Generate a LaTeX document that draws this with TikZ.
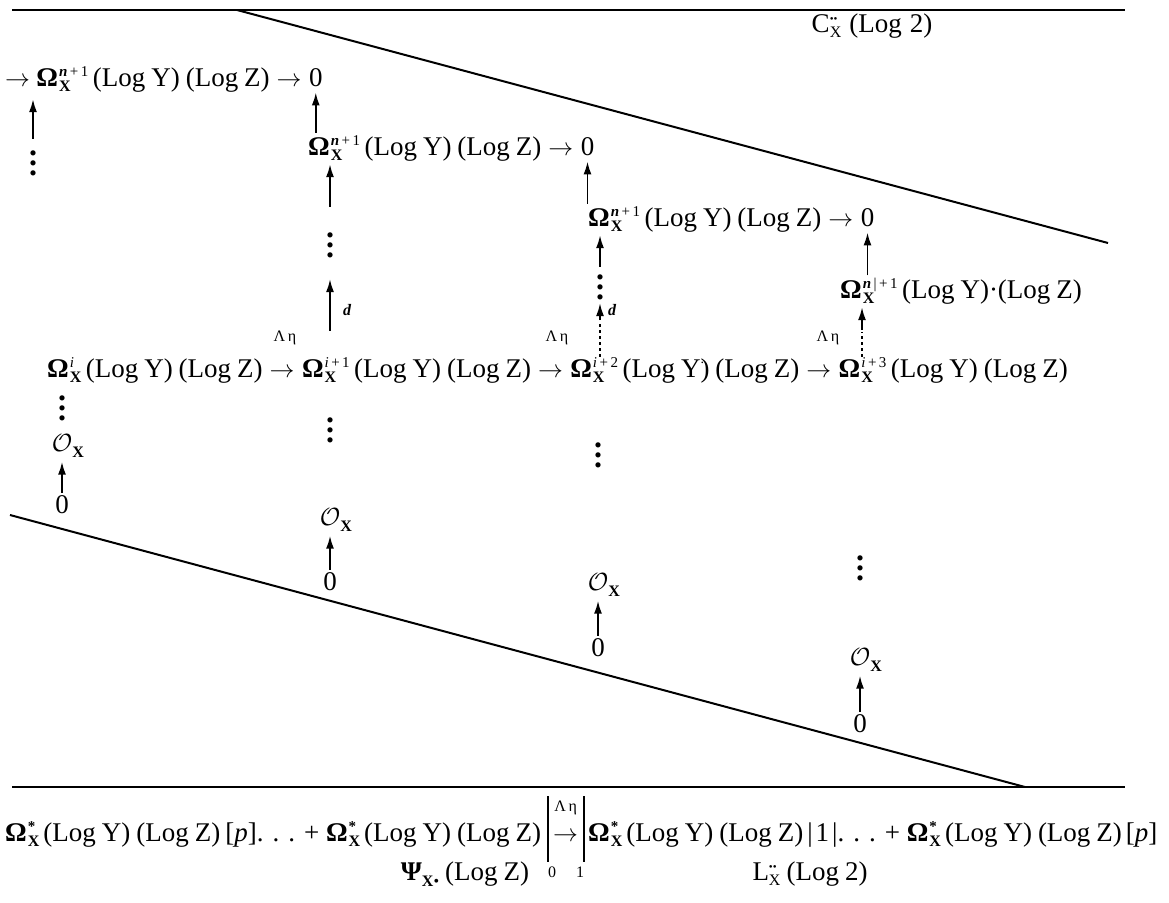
\documentclass[tikz,border=0pt]{standalone}
\usepackage{fontspec}
\setmainfont{Liberation Serif}
\usetikzlibrary{arrows.meta}

\newcommand\supsub[2]{{\fontsize{15}{16}\selectfont\setbox0\hbox{\raisebox{10pt}{#1}}\setbox2\hbox{\raisebox{-5pt}{\fontsize{16}{16}\selectfont#2}}\ifdim\wd0>\wd2 \rlap{\box2}\box0\else\rlap{\box0}\box2\fi}}
\newcommand\OmX[1]{\textbf{Ω}\kern1pt\supsub{#1}{\textbf{X}}}
\newcommand\OmS{\textbf{Ω}\kern1pt\supsub{\textbf{*}}{\textbf{X}}}
\newcommand\LYZ{\kern4pt(Log\kern6pt Y)\kern6pt(Log\kern6pt Z)}
\newcommand\arr{\kern7pt$\to$\kern7pt}
\newcommand\vdts{\vbox{\baselineskip=10pt\lineskiplimit=0pt\fontsize{32}{10}\selectfont\bfseries\hbox{.}\hbox{.}\hbox{.}}}
\newcommand\OX{$\mathcal{O}$\rlap{\raisebox{-6pt}{\fontsize{16}{18}\selectfont\textbf{X}}}}
\newcommand\twodots{{\fontsize{11}{11}\selectfont••}}

\begin{document}
\begin{tikzpicture}[x=1pt, y=-1pt,
        every node/.style={font=\fontsize{27}{30}\selectfont},
        txt/.style={inner sep=0pt, anchor=base west},
        small/.style={font=\fontsize{16}{18}\selectfont, inner sep=0pt},
        up/.style={-{Latex[length=13pt,width=8pt]}, line width=1.8pt},
        rule/.style={line width=2pt}]

        \useasboundingbox (0,0) rectangle (1169,902);

        \draw[rule] (12,10) -- (1125,10);
        \draw[rule] (237,10) -- (1108,243);
        \draw[rule] (10,515) -- (1025,787);
        \draw[rule] (12,787) -- (1125,787);

        \node (clab) at (872,26) {C\supsub{\twodots}{X}\kern8pt(Log\kern8pt 2)};

        % staircase rows
        \node[txt] (arA) at (5,86) {$\to$\kern6pt};
        \node[txt] (omA) at (arA.base east) {\OmX{\textbf{\textit{n}}\,+\,1}};
        \node[txt] (lzA) at (omA.base east) {\LYZ\arr};
        \node[txt] (zA) at (lzA.base east) {0};

        \node[txt] (omB) at (308,155) {\OmX{\textbf{\textit{n}}\,+\,1}};
        \node[txt] (lzB) at (omB.base east) {\LYZ\arr};
        \node[txt] (zB) at (lzB.base east) {0};

        \node[txt] (omC) at (588,226) {\OmX{\textbf{\textit{n}}\,+\,1}};
        \node[txt] (lzC) at (omC.base east) {\LYZ\arr};
        \node[txt] (zC) at (lzC.base east) {0};

        \node[txt] (omD) at (840,298) {\OmX{\textbf{\textit{n}}\,|\,+\,1}};
        \node[txt] (lzD) at (omD.base east) {\kern4pt(Log\kern6pt Y)\textperiodcentered(Log\kern6pt Z)};

        % main row
        \node[txt] (om0) at (47,377) {\OmX{\textit{i}}};
        \node[txt] (lz0) at (om0.base east) {\LYZ\arr};
        \node[txt] (om1) at (lz0.base east) {\OmX{\textit{i}\,+\,1}};
        \node[txt] (lz1) at (om1.base east) {\LYZ\arr};
        \node[txt] (om2) at (lz1.base east) {\OmX{\textit{i}\,+\,2}};
        \node[txt] (lz2) at (om2.base east) {\kern4pt(Log\kern6pt Y\rlap{\raisebox{14pt}{\fontsize{14}{14}\selectfont.}})\kern6pt(Log\kern6pt Z)\arr};
        \node[txt] (om3) at (lz2.base east) {\OmX{\textit{i}\,+\,3}};
        \node[txt] (lz3) at (om3.base east) {\LYZ};

        \foreach \x in {285, 557, 828}{
            \node[small] (eta\x) at (\x,338) {Λ\,η};
        }

        % upper columns
        \node (dA) at (33,163) {\vdts};
        \draw[up, shorten <=8pt, shorten >=8pt] (dA.north) -- (omA.south -| dA);

        \node (d2) at (330,245) {\vdts};
        \draw[up, shorten <=2pt, shorten >=6pt] (omB.north -| zA) -- (zA.south);
        \draw[up, shorten <=22pt, shorten >=4pt] (d2.north) -- (omB.south -| d2);
        \draw[up, shorten <=26pt, shorten >=18pt] (om1.north -| d2) -- (d2.south);
        \node[small, font=\fontsize{16}{18}\selectfont\bfseries\itshape] (dl2) at (347,310) {d};

        \node (d3) at (600,287) {\vdts};
        \draw[up, shorten <=2pt, shorten >=6pt] (omC.north -| zB) -- (zB.south);
        \draw[up, shorten <=4pt, shorten >=4pt] (d3.north) -- (omC.south -| d3);
        \coordinate (t3) at (600,320);
        \draw[up] (t3) -- (t3 |- d3.south);
        \draw[line width=1.8pt, dash pattern=on 3pt off 3pt, shorten >=2pt] (om2.north -| d3) -- (t3);
        \node[small, font=\fontsize{16}{18}\selectfont\bfseries\itshape] (dl3) at (612,310) {d};

        \draw[up, shorten <=2pt, shorten >=6pt] (omD.north -| zC) -- (zC.south);
        \coordinate (t4) at (862,330);
        \draw[up, shorten >=4pt] (t4) -- (t4 |- omD.south);
        \draw[line width=1.8pt, dash pattern=on 3pt off 3pt, shorten >=2pt] (om3.north -| t4) -- (t4);

        % lower columns
        \foreach \n/\x/\d/\o/\z in {1/62/408/446/505, 2/330/430/520/582, 3/598/455/585/648, 4/860/568/660/724}{
            \node (dots\n) at (\x,\d) {\vdts};
            \node[inner sep=1pt] (ox\n) at (\x,\o) {\OX};
            \node[inner sep=1pt] (zero\n) at (\x,\z) {0};
            \draw[up, shorten <=2pt, shorten >=3pt] (zero\n.north) -- (ox\n.south);
        }

        % bottom formula
        \node[txt] (b1) at (5,841) {\OmS\LYZ\kern5pt[\textit{p}]. . . + \OmS\LYZ};
        \node[txt] (barr) at (553,841) {$\to$};
        \node[small] (bet) at (barr.north |- 0,808) {Λ\,η};
        \node[txt] (b2) at (588,841) {\OmS\LYZ\kern4pt|\kern3pt1\kern3pt|. . . + \OmS\LYZ\kern4pt[\textit{p}]};
        \coordinate (bar1) at (548,796);
        \coordinate (bar2) at (584,796);
        \draw[line width=1.6pt] (bar1) -- ++(0,66);
        \draw[line width=1.6pt] (bar2) -- ++(0,66);
        \node[small] (bz) at (552,872) {0};
        \node[small] (bo) at (580,872) {1};
        \node (psi) at (465,874) {\textbf{Ψ}\raisebox{-6pt}{\fontsize{16}{18}\selectfont\textbf{X}\textbullet}\kern6pt(Log\kern6pt Z)};
        \node (llab) at (810,874) {L\supsub{\twodots}{X}\kern6pt(Log\kern6pt 2)};

    \end{tikzpicture}
\end{document}
